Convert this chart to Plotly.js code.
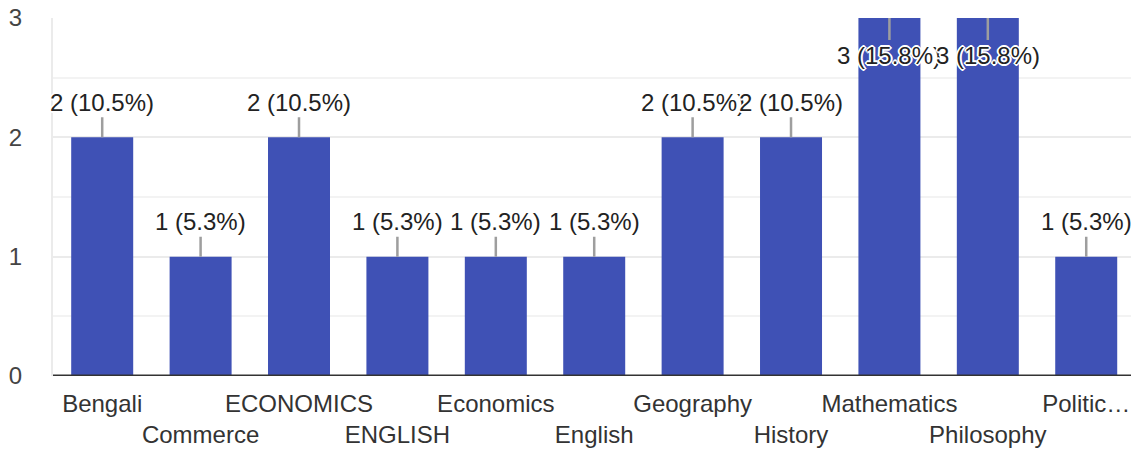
<!DOCTYPE html>
<html>
<head>
<meta charset="utf-8">
<script src="https://cdn.plot.ly/plotly-3.0.1.min.js"></script>
<style>html,body{margin:0;padding:0;background:#fff;}#chart{width:1131px;height:452px;}</style>
</head>
<body>
<div id="chart"></div>
<script>
const categories = ["Bengali","Commerce","ECONOMICS","ENGLISH","Economics","English","Geography","History","Mathematics","Philosophy","Political Science"];
const tickLabels = ["Bengali","Commerce","ECONOMICS","ENGLISH","Economics","English","Geography","History","Mathematics","Philosophy","Politic…"];
const counts = [2,1,2,1,1,1,2,2,3,3,1];
const percents = ["10.5","5.3","10.5","5.3","5.3","5.3","10.5","10.5","15.8","15.8","5.3"];

const yMax = 3;
const FONT = 'Liberation Sans, Arial, sans-serif';
const halo = "2px 0 0 #fff, -2px 0 0 #fff, 0 2px 0 #fff, 0 -2px 0 #fff, 1px 1px 0 #fff, -1px -1px 0 #fff, 1px -1px 0 #fff, -1px 1px 0 #fff";

const annotations = categories.map((c, i) => {
  const v = counts[i];
  const atTop = v >= yMax;
  return {
    x: c, y: v, xref: 'x', yref: 'y',
    text: v + ' (' + percents[i] + '%)',
    showarrow: true, arrowhead: 0, arrowwidth: 2.5, arrowcolor: '#9e9e9e',
    standoff: 0, startstandoff: 0,
    ax: 0, ay: atTop ? 37 : -35,
    font: {family: FONT, size: 24, color: '#222', shadow: halo}
  };
});

const ticktext = tickLabels.map((t, i) => (i % 2 === 1 ? '<br>' + t : t));

const data = [{
  type: 'bar', x: categories, y: counts,
  marker: {color: '#3f51b5'}, width: 0.63,
  hoverinfo: 'none'
}];

const layout = {
  width: 1131, height: 452,
  margin: {l: 53, r: 0, t: 18, b: 76, pad: 0},
  paper_bgcolor: '#fff', plot_bgcolor: '#fff',
  showlegend: false,
  font: {family: FONT, size: 24, color: '#333'},
  xaxis: {
    type: 'category', range: [-0.5, 10.455],
    tickmode: 'array', tickvals: categories, ticktext: ticktext,
    showgrid: false, zeroline: false, ticks: '', tickangle: 0,
    showline: false, ticklabelstandoff: 11,
    tickfont: {family: FONT, size: 24, color: '#333'}
  },
  yaxis: {
    range: [0, yMax], tickvals: [0, 1, 2, 3], ticks: '',
    showgrid: true, gridcolor: '#ebebeb', gridwidth: 2,
    minor: {dtick: 0.5, showgrid: true, gridcolor: '#f3f3f3', gridwidth: 2, tick0: 0},
    zeroline: false, showline: true, linecolor: '#ebebeb', linewidth: 2,
    ticklabelstandoff: 24,
    tickfont: {family: FONT, size: 24, color: '#444'}
  },
  shapes: [{type: 'line', xref: 'paper', yref: 'y', x0: 0, x1: 1, y0: 0, y1: 0,
            line: {color: '#333', width: 3}}],
  annotations: annotations
};

Plotly.newPlot('chart', data, layout, {displayModeBar: false, staticPlot: true});
</script>
</body>
</html>
